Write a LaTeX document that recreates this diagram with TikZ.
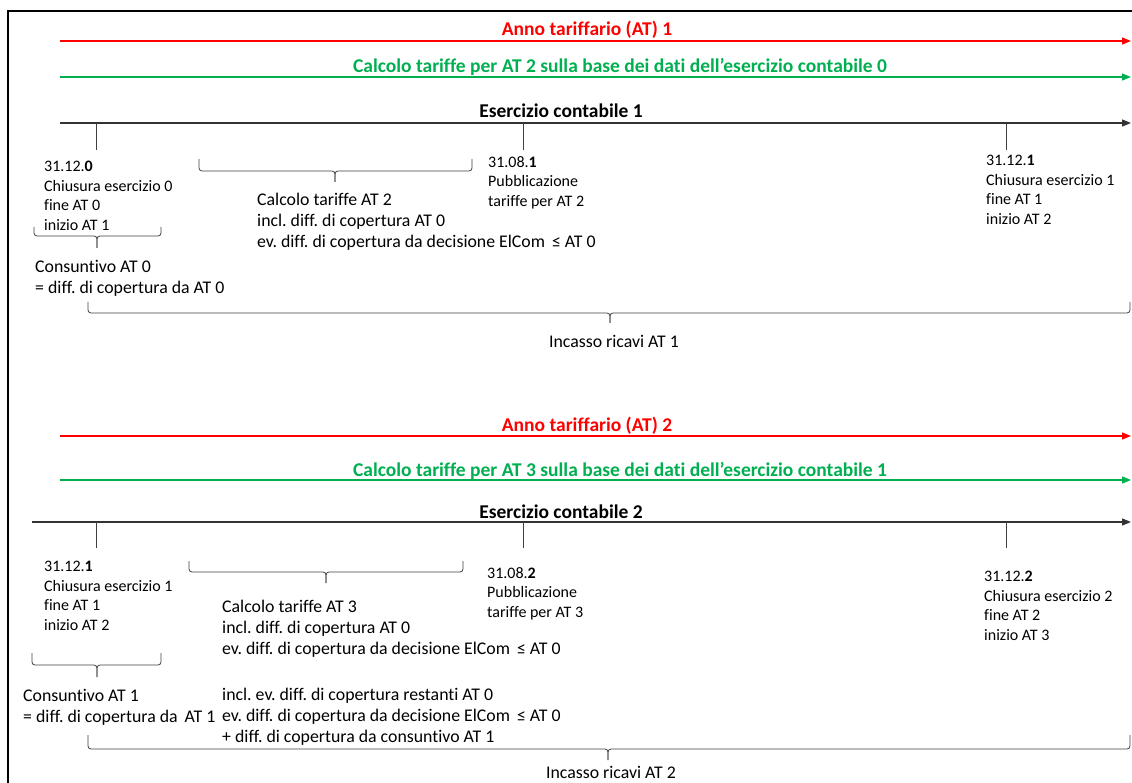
\documentclass[tikz,border=0pt]{standalone}
\usepackage{fontspec}
\setmainfont{Carlito}[Ligatures=NoCommon]
\usetikzlibrary{arrows.meta}
\frenchspacing

\definecolor{atred}{RGB}{255,0,0}
\definecolor{atgreen}{RGB}{0,176,80}

\begin{document}
\begin{tikzpicture}[
    x=1pt, y=-1pt,
    timeline/.style={line width=1.3pt, -{Triangle[length=9pt,width=7pt]}},
    tick/.style={line width=0.8pt, black!75},
    bracket/.style={line width=0.8pt, black!75, rounded corners=3pt},
    title/.style={font=\fontsize{19.5}{23}\selectfont\bfseries, inner sep=0pt, anchor=base},
    smalltext/.style={font=\fontsize{16}{19.5}\selectfont, align=left, anchor=north west, inner sep=0pt},
    bigtext/.style={font=\fontsize{17.8}{21}\selectfont, align=left, anchor=north west, inner sep=0pt}
]

\useasboundingbox (0,0) rectangle (1132,783);

% Frame
\draw[line width=2.5pt] (8,800) -- (8,11) -- (1150,11);

% ---------- Anno tariffario 1 ----------
\coordinate (redA) at (60,41);
\coordinate (redB) at (1131,41);
\coordinate (greenA) at (60,77);
\coordinate (greenB) at (1131,77);
\coordinate (blackA) at (60,123);
\coordinate (blackB) at (1131,123);

\draw[timeline, atred] (redA) -- (redB);
\draw[timeline, atgreen] (greenA) -- (greenB);
\draw[timeline, black!80] (blackA) -- (blackB);

\node[title, text=atred] (anno1) at (587,36) {Anno tariffario (AT) 1};
\node[title, text=atgreen] (calc1) at (620,72.5) {Calcolo tariffe per AT 2 sulla base dei dati dell’esercizio contabile 0};
\node[title] (eserc1) at (561,118) {Esercizio contabile 1};

% ticks
\draw[tick] (96,123) -- (96,150);
\draw[tick] (523,123) -- (523,150);
\draw[tick] (1006,123) -- (1006,150);

% dates
\node[smalltext] (chius0) at (44,161.1) {31.12.\textbf{0}\\Chiusura esercizio 0\\fine AT 0\\inizio AT 1};
\node[smalltext] (pubbl1) at (488,156.1) {31.08.\textbf{1}\\Pubblicazione\\tariffe per AT 2};
\node[smalltext] (chius1) at (986,155.1) {31.12.\textbf{1}\\Chiusura esercizio 1\\fine AT 1\\inizio AT 2};

% brackets
\draw[bracket] (34,227) -- (34,236) -- (97,236) -- (97,248);
\draw[bracket] (161,227) -- (161,236) -- (97,236) -- (97,248);
\draw[bracket] (199,159) -- (199,171) -- (335,171) -- (335,182);
\draw[bracket] (472,159) -- (472,171) -- (335,171) -- (335,182);
\draw[bracket] (88,302) -- (88,313) -- (610,313) -- (610,323);
\draw[bracket] (1130,302) -- (1130,313) -- (610,313) -- (610,323);

\node[bigtext] (cons0) at (35,260.4) {Consuntivo AT 0\\= diff. di copertura da AT 0};
\node[bigtext] (tariffe2) at (257,193.4) {Calcolo tariffe AT 2\\incl. diff. di copertura AT 0\\ev. diff. di copertura da decisione ElCom \,≤ AT 0};
\node[bigtext, anchor=base] (incasso1) at (614,348) {Incasso ricavi AT 1};

% ---------- Anno tariffario 2 ----------
\coordinate (redC) at (60,436);
\coordinate (redD) at (1131,436);
\coordinate (greenC) at (60,480);
\coordinate (greenD) at (1131,480);
\coordinate (blackC) at (32,522);
\coordinate (blackD) at (1131,522);

\draw[timeline, atred] (redC) -- (redD);
\draw[timeline, atgreen] (greenC) -- (greenD);
\draw[timeline, black!80] (blackC) -- (blackD);

\node[title, text=atred] (anno2) at (587,431) {Anno tariffario (AT) 2};
\node[title, text=atgreen] (calc2) at (620,476) {Calcolo tariffe per AT 3 sulla base dei dati dell’esercizio contabile 1};
\node[title] (eserc2) at (561,518) {Esercizio contabile 2};

% ticks
\draw[tick] (96,522) -- (96,548);
\draw[tick] (523,522) -- (523,548);
\draw[tick] (1006,522) -- (1006,548);

% dates
\node[smalltext] (chius1b) at (44,561.1) {31.12.\textbf{1}\\Chiusura esercizio 1\\fine AT 1\\inizio AT 2};
\node[smalltext] (pubbl2) at (487,567.1) {31.08.\textbf{2}\\Pubblicazione\\tariffe per AT 3};
\node[smalltext] (chius2) at (984,571.1) {31.12.\textbf{2}\\Chiusura esercizio 2\\fine AT 2\\inizio AT 3};

% brackets
\draw[bracket] (32,653) -- (32,665) -- (97,665) -- (97,677);
\draw[bracket] (161,653) -- (161,665) -- (97,665) -- (97,677);
\draw[bracket] (189,561) -- (189,572) -- (326,572) -- (326,583);
\draw[bracket] (463,561) -- (463,572) -- (326,572) -- (326,583);
\draw[bracket] (88,735) -- (88,749) -- (608,749) -- (608,760);
\draw[bracket] (1130,735) -- (1130,749) -- (608,749) -- (608,760);

\node[bigtext] (cons1) at (23,689.4) {Consuntivo AT 1\\= diff. di copertura da \,AT 1};
\node[bigtext] (tariffe3) at (222,600.4) {Calcolo tariffe AT 3\\incl. diff. di copertura AT 0\\ev. diff. di copertura da decisione ElCom \,≤ AT 0};
\node[bigtext] (restanti) at (222,688.4) {incl. ev. diff. di copertura restanti AT 0\\ev. diff. di copertura da decisione ElCom \,≤ AT 0\\+ diff. di copertura da consuntivo AT 1};
\node[bigtext, anchor=base] (incasso2) at (611,778) {Incasso ricavi AT 2};

\end{tikzpicture}
\end{document}
